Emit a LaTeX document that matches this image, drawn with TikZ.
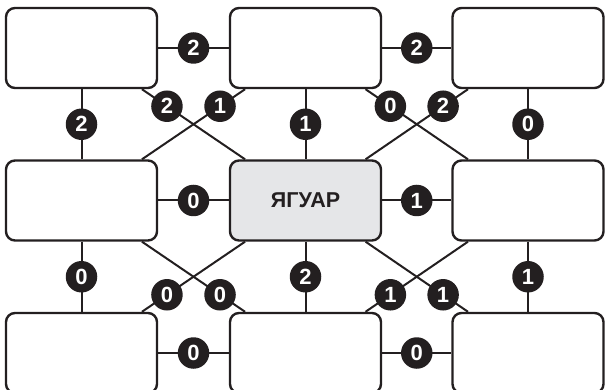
\documentclass[tikz,border=0pt]{standalone}
\usepackage{fontspec}
\setmainfont{Liberation Sans}
\definecolor{ink}{HTML}{231F20}
\definecolor{centerfill}{HTML}{E5E6E8}
\tikzset{
  box/.style={draw=ink, line width=2.4pt, rounded corners=9pt, minimum width=151pt, minimum height=80pt, fill=white, inner sep=0pt},
  num/.style={circle, fill=ink, text=white, font=\bfseries\fontsize{22}{22}\selectfont, minimum size=31.5pt, inner sep=0pt},
  link/.style={draw=ink, line width=2pt}
}
\begin{document}
\begin{tikzpicture}[x=1pt,y=-1pt]
\useasboundingbox (0,0) rectangle (605,390);
% boxes
\node[box] (tl) at (81.5,48) {};
\node[box] (tm) at (305.5,48) {};
\node[box] (tr) at (528,48) {};
\node[box] (ml) at (81.5,200.5) {};
\node[box, fill=centerfill, font=\bfseries\fontsize{21.5}{21.5}\selectfont, text=ink] (c) at (305.5,200.5) {ЯГУАР};
\node[box] (mr) at (528,200.5) {};
\node[box] (bl) at (81.5,353) {};
\node[box] (bm) at (305.5,353) {};
\node[box] (br) at (528,353) {};
% horizontal
\draw[link] (tl) -- node[num] (n1) {2} (tm);
\draw[link] (tm) -- node[num] (n2) {2} (tr);
\draw[link] (ml) -- node[num] (n3) {0} (c);
\draw[link] (c) -- node[num] (n4) {1} (mr);
\draw[link] (bl) -- node[num] (n5) {0} (bm);
\draw[link] (bm) -- node[num] (n6) {0} (br);
% vertical
\draw[link] (tl) -- node[num] (n7) {2} (ml);
\draw[link] (tm) -- node[num] (n8) {1} (c);
\draw[link] (tr) -- node[num] (n9) {0} (mr);
\draw[link] (ml) -- node[num] (n10) {0} (bl);
\draw[link] (c) -- node[num] (n11) {2} (bm);
\draw[link] (mr) -- node[num] (n12) {1} (br);
% diagonals upper
\draw[link] (c) -- node[num, pos=0.757] (n13) {2} (tl);
\draw[link] (ml) -- node[num, pos=0.757] (n14) {1} (tm);
\draw[link] (mr) -- node[num, pos=0.757] (n15) {0} (tm);
\draw[link] (c) -- node[num, pos=0.757] (n16) {2} (tr);
% diagonals lower
\draw[link] (c) -- node[num, pos=0.757] (n17) {0} (bl);
\draw[link] (ml) -- node[num, pos=0.757] (n18) {0} (bm);
\draw[link] (mr) -- node[num, pos=0.757] (n19) {1} (bm);
\draw[link] (c) -- node[num, pos=0.757] (n20) {1} (br);
\end{tikzpicture}
\end{document}
